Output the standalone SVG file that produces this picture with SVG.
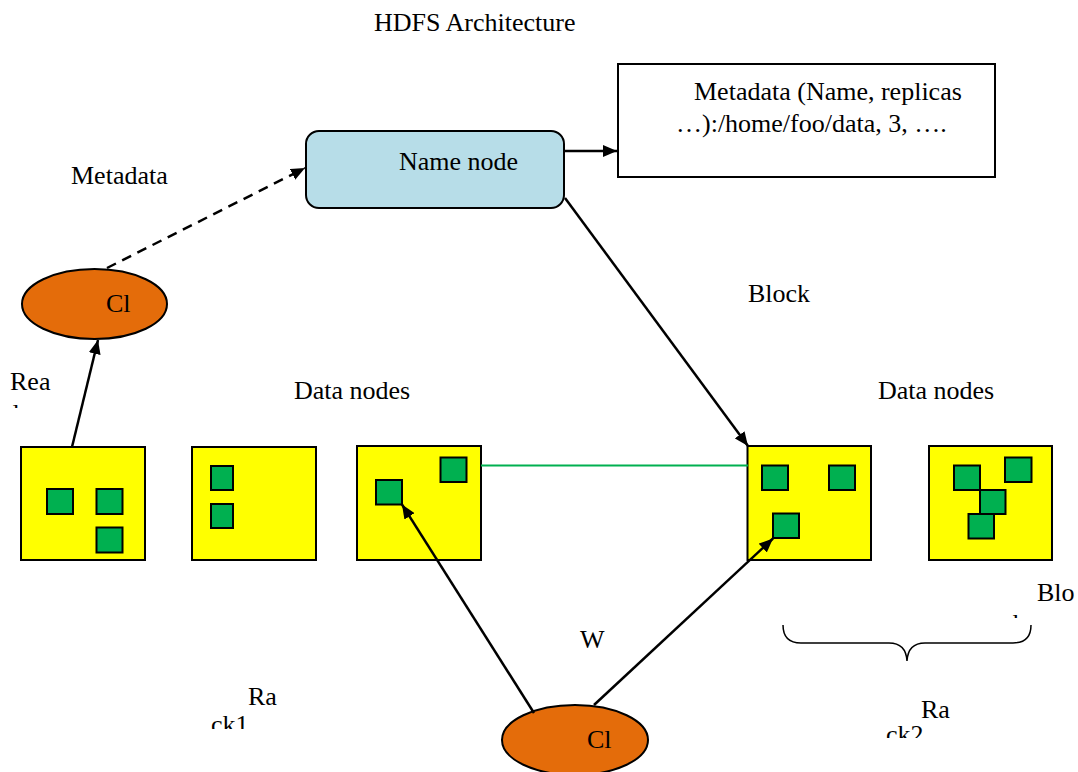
<svg xmlns="http://www.w3.org/2000/svg" width="1078" height="772" viewBox="0 0 1078 772">
<style>
text{font-family:"Liberation Serif","Times New Roman",serif;font-size:26px;fill:#000}
.dn{fill:#ffff00;stroke:#000;stroke-width:2}
.blk{fill:#00b050;stroke:#000;stroke-width:2}
.cl{fill:#e46c0a;stroke:#000;stroke-width:2}
.ln{stroke:#000;stroke-width:2.5;fill:none}
</style>
<defs>
<marker id="ah" viewBox="0 0 14 12" refX="14" refY="6" markerWidth="14" markerHeight="12" markerUnits="userSpaceOnUse" orient="auto">
<path d="M0,0 L14,6 L0,12 Z" fill="#000"/>
</marker>
<clipPath id="c1"><rect x="0" y="395" width="60" height="13"/></clipPath>
<clipPath id="c2"><rect x="190" y="712" width="80" height="17"/></clipPath>
<clipPath id="c3"><rect x="870" y="725" width="80" height="13"/></clipPath>
<clipPath id="c4"><rect x="990" y="608" width="60" height="10"/></clipPath>
</defs>
<rect width="1078" height="772" fill="#fff"/>
<text x="374" y="31">HDFS Architecture</text>
<g id="metadata-box">
<rect x="618" y="64" width="377" height="113" fill="#fff" stroke="#000" stroke-width="2"/>
<text x="694" y="100">Metadata (Name, replicas</text>
<text x="676" y="132">…):/home/foo/data, 3, ….</text>
</g>
<g id="namenode">
<rect x="306" y="131" width="258" height="77" rx="13" fill="#b7dde8" stroke="#000" stroke-width="2"/>
<text x="399" y="170">Name node</text>
</g>
<g id="client1">
<ellipse cx="94.5" cy="304" rx="72.5" ry="35" class="cl"/>
<text x="106" y="312">Cl</text>
</g>
<g id="client2">
<ellipse cx="575" cy="740" rx="73" ry="35" class="cl"/>
<text x="587" y="748">Cl</text>
</g>
<g id="datanode1">
<rect x="21" y="447" width="124" height="113" class="dn"/>
<rect x="47" y="489" width="26" height="25" class="blk"/>
<rect x="96.5" y="489" width="26" height="25" class="blk"/>
<rect x="96.5" y="527.5" width="26" height="25" class="blk"/>
</g>
<g id="datanode2">
<rect x="192" y="447" width="124" height="113" class="dn"/>
<rect x="211" y="466" width="22" height="24" class="blk"/>
<rect x="211" y="504" width="22" height="24" class="blk"/>
</g>
<g id="datanode3">
<rect x="357" y="446" width="124" height="114" class="dn"/>
<rect x="376" y="480" width="26" height="24.5" class="blk"/>
<rect x="440.5" y="457.5" width="26" height="24.5" class="blk"/>
</g>
<g id="datanode4">
<rect x="747.5" y="446" width="123.5" height="114" class="dn"/>
<rect x="762" y="465.5" width="26" height="24.5" class="blk"/>
<rect x="829" y="465.5" width="26" height="24.5" class="blk"/>
<rect x="773" y="513.5" width="26" height="24.5" class="blk"/>
</g>
<g id="datanode5">
<rect x="929" y="446" width="123" height="114" class="dn"/>
<rect x="954" y="465.5" width="26" height="24.5" class="blk"/>
<rect x="1005" y="457.5" width="26.5" height="24.5" class="blk"/>
<rect x="980" y="490" width="25.5" height="24" class="blk"/>
<rect x="968.5" y="514" width="25.5" height="24.5" class="blk"/>
</g>
<g id="connectors">
<line x1="564" y1="151" x2="617" y2="151" class="ln" marker-end="url(#ah)"/>
<line x1="107" y1="268" x2="305" y2="168" class="ln" stroke-dasharray="10,7" marker-end="url(#ah)"/>
<line x1="72" y1="447" x2="98" y2="340" class="ln" marker-end="url(#ah)"/>
<line x1="565" y1="198" x2="748" y2="446" class="ln" marker-end="url(#ah)"/>
<line x1="481" y1="465.5" x2="748" y2="465.5" stroke="#00b050" stroke-width="2"/>
<line x1="534" y1="713" x2="402" y2="504.5" class="ln" marker-end="url(#ah)"/>
<line x1="594" y1="705" x2="773" y2="538.5" class="ln" marker-end="url(#ah)"/>
<path d="M783,625 Q783,643 801,643 L889,643 Q906,643 907,661 Q908,643 925,643 L1013,643 Q1031,643 1031,625" fill="none" stroke="#000" stroke-width="1.5"/>
</g>
<g id="labels">
<text x="71" y="184">Metadata</text>
<text x="10" y="390">Rea</text>
<text x="6" y="422" clip-path="url(#c1)">d</text>
<text x="294" y="399">Data nodes</text>
<text x="878" y="399">Data nodes</text>
<text x="748" y="302">Block</text>
<text x="580" y="648">W</text>
<text x="1037" y="601">Blo</text>
<text x="1001" y="632" clip-path="url(#c4)">ck</text>
<text x="248" y="705">Ra</text>
<text x="211" y="733" clip-path="url(#c2)">ck1</text>
<text x="921" y="718">Ra</text>
<text x="886" y="743" clip-path="url(#c3)">ck2</text>
</g>
</svg>
